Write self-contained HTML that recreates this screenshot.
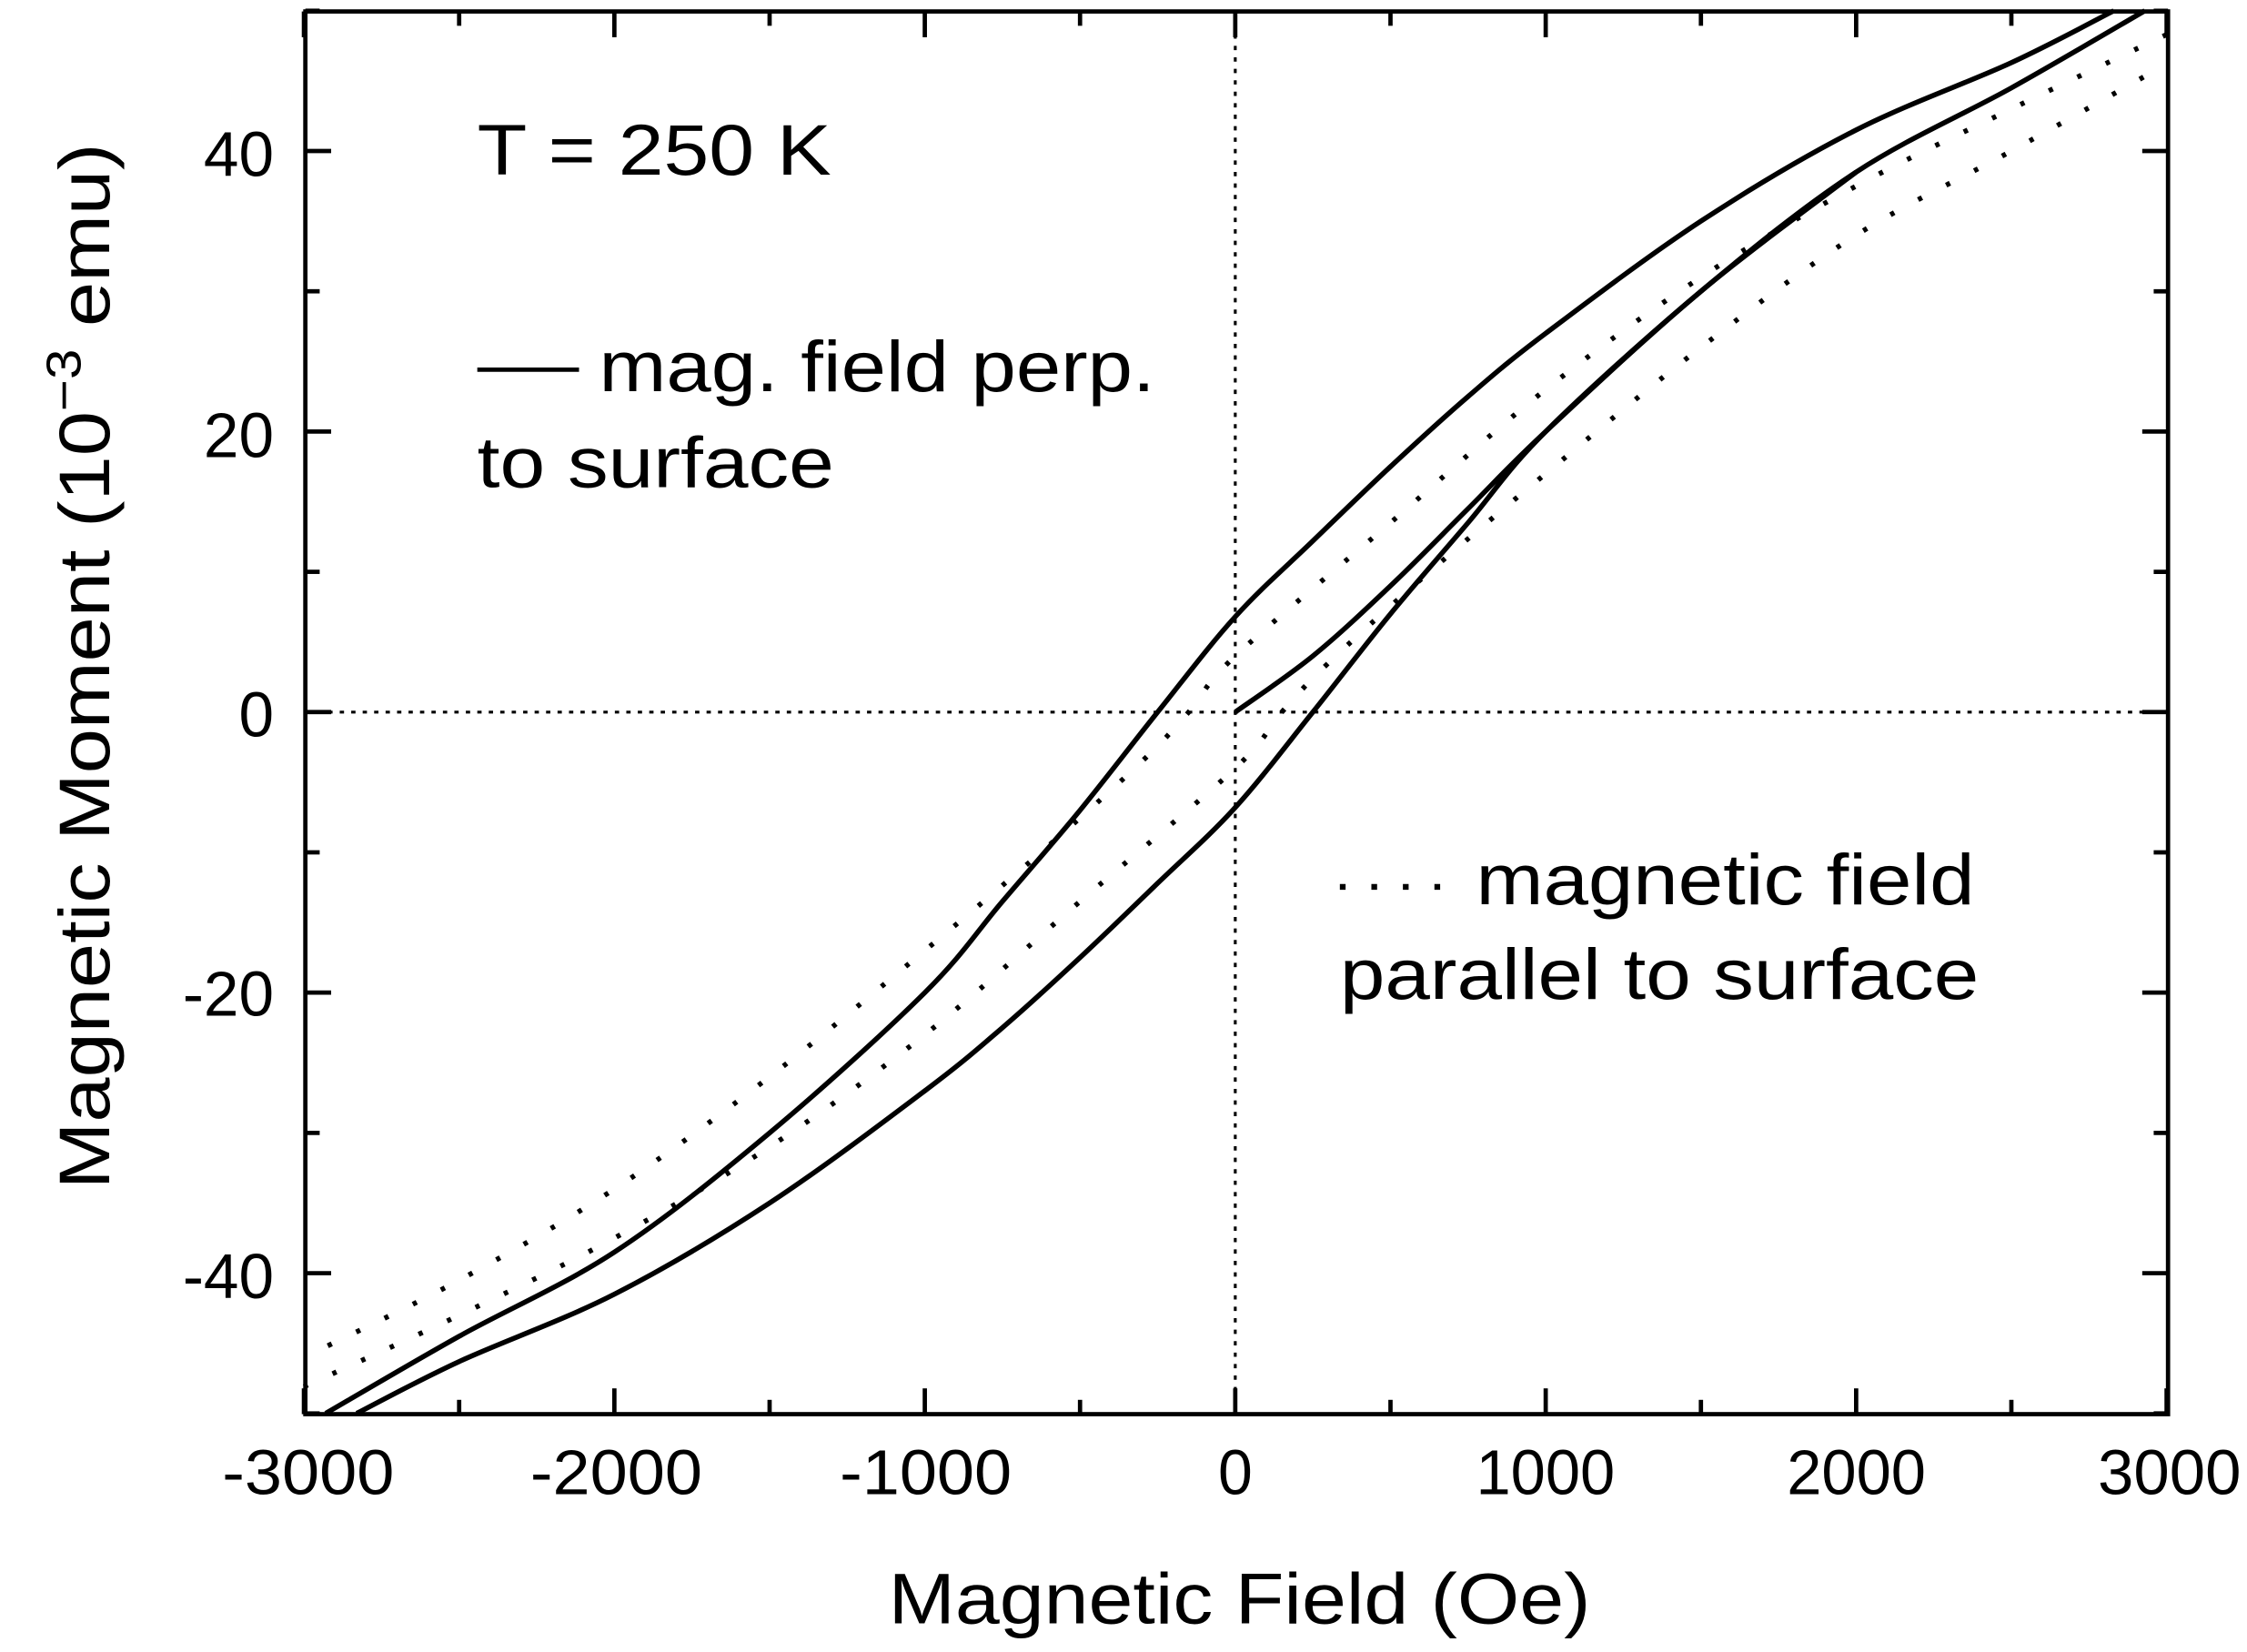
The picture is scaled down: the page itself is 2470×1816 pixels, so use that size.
<!DOCTYPE html>
<html><head><meta charset="utf-8"><style>
html,body{margin:0;padding:0;background:#fff}
svg{display:block}
text{font-family:"Liberation Sans",Arial,sans-serif;fill:#000}
</style></head><body>
<svg id="s" width="2470" height="1816" viewBox="0 0 1568 1153" xmlns="http://www.w3.org/2000/svg">
<rect width="1568" height="1153" fill="#fff"/>
<g id="g"></g>
<rect x="213" y="8" width="1300" height="979" fill="none" stroke="#000" stroke-width="3"/>
<g font-size="44">
<text x="155" y="1043" textLength="120" lengthAdjust="spacingAndGlyphs">-3000</text>
<text x="370" y="1043" textLength="120" lengthAdjust="spacingAndGlyphs">-2000</text>
<text x="586" y="1043" textLength="120" lengthAdjust="spacingAndGlyphs">-1000</text>
<text x="850" y="1043" textLength="24" lengthAdjust="spacingAndGlyphs">0</text>
<text x="1030" y="1043" textLength="97" lengthAdjust="spacingAndGlyphs">1000</text>
<text x="1247" y="1043" textLength="97" lengthAdjust="spacingAndGlyphs">2000</text>
<text x="1464" y="1043" textLength="100" lengthAdjust="spacingAndGlyphs">3000</text>
</g>
<g font-size="44" text-anchor="end">
<text x="191" y="123">40</text><text x="191" y="319">20</text><text x="191" y="514">0</text>
<text x="191" y="709">-20</text><text x="191" y="906">-40</text>
</g>
<text x="620" y="1133" font-size="50" textLength="490" lengthAdjust="spacingAndGlyphs">Magnetic Field (Oe)</text>
<text transform="translate(76,830) rotate(-90)" font-size="50" textLength="730" lengthAdjust="spacingAndGlyphs">Magnetic Moment (10<tspan dy="-20" font-size="34">−3</tspan><tspan dy="20"> emu)</tspan></text>
<text x="333" y="122" font-size="50" textLength="247" lengthAdjust="spacingAndGlyphs">T = 250 K</text>
<line x1="333" y1="258" x2="404" y2="258" stroke="#000" stroke-width="3"/>
<text x="418" y="273" font-size="50" textLength="388" lengthAdjust="spacingAndGlyphs">mag. field perp.</text>
<text x="333" y="340" font-size="50" textLength="249" lengthAdjust="spacingAndGlyphs">to surface</text>
<line x1="935" y1="619" x2="1018" y2="619" stroke="#000" stroke-width="4" stroke-dasharray="4 18"/>
<text x="1030" y="631" font-size="50" textLength="348" lengthAdjust="spacingAndGlyphs">magnetic field</text>
<text x="935" y="697" font-size="50" textLength="446" lengthAdjust="spacingAndGlyphs">parallel to surface</text>
</svg>
<script>
var X=function(x){return 862+x*1300/6000},Y=function(y){return 497-y*9.79};
var g=document.getElementById('g'),NS='http://www.w3.org/2000/svg';
function path(pts,dash,w){var p=pts.map(function(a){return [X(a[0]),Y(a[1])]});
var d='M'+p[0][0]+','+p[0][1];
for(var i=0;i<p.length-1;i++){var p0=p[i-1]||p[i],p1=p[i],p2=p[i+1],p3=p[i+2]||p2;
d+=' C'+(p1[0]+(p2[0]-p0[0])/6)+','+(p1[1]+(p2[1]-p0[1])/6)+' '+(p2[0]-(p3[0]-p1[0])/6)+','+(p2[1]-(p3[1]-p1[1])/6)+' '+p2[0]+','+p2[1];}
var e=document.createElementNS(NS,'path');e.setAttribute('d',d);e.setAttribute('fill','none');e.setAttribute('stroke','#000');
e.setAttribute('stroke-width',w||3.5);if(dash)e.setAttribute('stroke-dasharray',dash);g.appendChild(e);}
function ln(x1,y1,x2,y2,w,dash){var e=document.createElementNS(NS,'line');
e.setAttribute('x1',x1);e.setAttribute('y1',y1);e.setAttribute('x2',x2);e.setAttribute('y2',y2);
e.setAttribute('stroke','#000');e.setAttribute('stroke-width',w);if(dash)e.setAttribute('stroke-dasharray',dash);g.appendChild(e);}
ln(213,497,1513,497,2,'3 5');ln(862,8,862,987,2,'3 5');
for(var x=-3000;x<=3000;x+=500){var L=(x%1000==0)?18:10;ln(X(x),987,X(x),987-L,3);ln(X(x),8,X(x),8+L,3);}
for(var y=-50;y<=50;y+=10){var L=(y%20==0)?18:10;ln(213,Y(y),213+L,Y(y),3);ln(1513,Y(y),1513-L,Y(y),3);}
var up=[[2830,50],[2500,46.3],[2000,41.5],[1500,35],[1000,27],[750,22.5],[500,17.5],[250,12.2],[0,6.8],[-250,0],[-500,-7],[-750,-13.5],[-1000,-20],[-1500,-30],[-2000,-38.5],[-2500,-44.5],[-2930,-50]];
path(up);
path(up.map(function(a){return [-a[0],-a[1]]}));
path([[0,0],[250,4],[500,9],[750,14.5],[1000,20],[1500,30],[2000,38.5]]);
path([[3000,48.3],[2500,43],[2000,37.5],[1500,31],[1000,23],[500,13.5],[0,4],[-150,0],[-300,-3.5],[-600,-9.5],[-1000,-17],[-1500,-26],[-2000,-34],[-2500,-40.5],[-3000,-46]],'3 19',3.5);
path([[-3000,-48.1],[-2500,-43],[-2000,-37.5],[-1500,-31],[-1000,-23],[-500,-13.5],[0,-4],[150,0],[300,3.5],[600,9.5],[1000,17],[1500,26],[2000,34],[2500,40],[3000,46.2]],'3 19',3.5);
</script>
</body></html>
